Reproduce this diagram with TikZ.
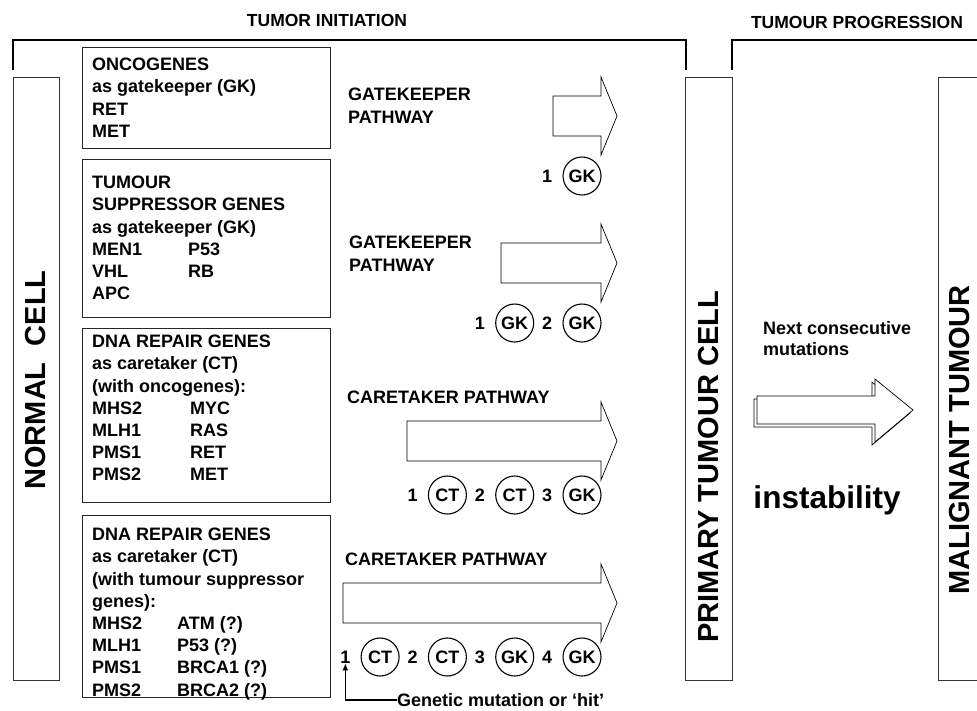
\documentclass[tikz,border=0pt]{standalone}
\usepackage{fontspec}
\setmainfont{Liberation Sans}
\usetikzlibrary{arrows.meta, positioning}

\tikzset{
  bracket/.style={line width=2pt},
  genebox/.style={draw=black!85, line width=0.9pt},
  cellbox/.style={draw=black!80, line width=0.9pt},
  genetext/.style={anchor=north west, inner sep=0pt, align=left, font=\bfseries\fontsize{18}{22.2}\selectfont},
  pathtext/.style={anchor=west, inner sep=0pt, align=left, font=\bfseries\fontsize{18}{23}\selectfont},
  title/.style={inner sep=0pt, font=\bfseries\fontsize{17.5}{20}\selectfont},
  celllabel/.style={rotate=90, inner sep=0pt, font=\bfseries\fontsize{29}{29}\selectfont},
  hit/.style={draw, circle, line width=1.1pt, minimum size=38pt, inner sep=0pt, font=\bfseries\fontsize{18}{18}\selectfont},
  num/.style={inner sep=0pt, font=\bfseries\fontsize{18}{18}\selectfont},
  blockarrow/.style={draw, fill=white, line width=0.7pt},
}

% shaft left end, centre line
\newcommand{\patharrow}[2]{%
  \draw[blockarrow] (#1,#2-20) -- (601,#2-20) -- (601,#2-39) -- (617,#2)
    -- (601,#2+39) -- (601,#2+20) -- (#1,#2+20) -- cycle;}

% row name, centre line, number of hits, kinds
\newcommand{\hitrow}[4]{%
  \foreach \t [count=\i] in {#4} {
    \node[hit] (#1h\i) at ({582-67.3*(#3-\i)},#2) {\t};
    \node[num, left=10pt of #1h\i] (#1n\i) {\i};
  }}

\newcommand{\twocol}[3]{\makebox[#1][l]{#2}#3}

\begin{document}
\begin{tikzpicture}[x=1pt, y=-1pt]
  \useasboundingbox (0,0) rectangle (977,710);

  \node[title] (init) at (327,20) {TUMOR INITIATION};
  \node[title] (prog) at (857,22) {TUMOUR PROGRESSION};
  \draw[bracket] (13,70) |- (686,40) -- (686,70);
  \draw[bracket] (732,70) |- (977,40);

  \draw[cellbox] (13,77) rectangle (59,680);
  \draw[cellbox] (685,77) rectangle (732,680);
  \draw[cellbox] (977,77) -| (938,680) -- (977,680);
  \node[celllabel] (normal) at (36,380) {NORMAL\ \ CELL};
  \node[celllabel] (primary) at (709,467) {PRIMARY TUMOUR CELL};
  \node[celllabel] (malignant) at (960,440) {MALIGNANT TUMOUR};

  \draw[genebox] (82,47) rectangle (330,148);
  \draw[genebox] (82,159) rectangle (330,317);
  \draw[genebox] (82,328) rectangle (330,502);
  \draw[genebox] (82,515) rectangle (330,697);

  \node[genetext] (onco) at (92,58) {ONCOGENES\\as gatekeeper (GK)\\RET\\MET};
  \node[genetext] (supp) at (92,176) {TUMOUR\\SUPPRESSOR GENES\\as gatekeeper (GK)\\
    \twocol{96pt}{MEN1}{P53}\\\twocol{96pt}{VHL}{RB}\\APC};
  \node[genetext] (repon) at (92,335) {DNA REPAIR GENES\\as caretaker (CT)\\(with oncogenes):\\
    \twocol{98pt}{MHS2}{MYC}\\\twocol{98pt}{MLH1}{RAS}\\\twocol{98pt}{PMS1}{RET}\\\twocol{98pt}{PMS2}{MET}};
  \node[genetext] (repsup) at (92,528) {DNA REPAIR GENES\\as caretaker (CT)\\(with tumour suppressor\\genes):\\
    \twocol{85pt}{MHS2}{ATM (?)}\\\twocol{85pt}{MLH1}{P53 (?)}\\\twocol{85pt}{PMS1}{BRCA1 (?)}\\\twocol{85pt}{PMS2}{BRCA2 (?)}};

  \patharrow{553}{116}
  \patharrow{501}{263}
  \patharrow{407}{441}
  \patharrow{343}{603}

  \node[pathtext, anchor=north west] (gk1) at (348,88) {GATEKEEPER\\PATHWAY};
  \node[pathtext, anchor=north west] (gk2) at (349,236) {GATEKEEPER\\PATHWAY};
  \node[pathtext] (ct1) at (347,397) {CARETAKER PATHWAY};
  \node[pathtext] (ct2) at (345,559) {CARETAKER PATHWAY};

  \hitrow{a}{176}{1}{GK}
  \hitrow{b}{323}{2}{GK,GK}
  \hitrow{c}{495}{3}{CT,CT,GK}
  \hitrow{d}{657}{4}{CT,CT,GK,GK}

  \node[pathtext] (hitnote) at (397,700) {Genetic mutation or `hit'};
  \draw[line width=1.2pt, -{Latex[length=7pt, width=6pt]}] (hitnote.west) -| (dn1.south);

  \node[pathtext, anchor=north west, font=\bfseries\fontsize{18}{21}\selectfont] (next) at (763,321) {Next consecutive\\mutations};
  \draw[blockarrow, shift={(-3,3)}] (757,396) -- (875,396) -- (875,379) -- (913,410)
    -- (875,442) -- (875,424) -- (757,424) -- cycle;
  \draw[blockarrow] (757,396) -- (875,396) -- (875,379) -- (913,410)
    -- (875,442) -- (875,424) -- (757,424) -- cycle;
  \node[inner sep=0pt, font=\bfseries\fontsize{31.5}{32}\selectfont] (instab) at (827,500) {instability};
\end{tikzpicture}
\end{document}
